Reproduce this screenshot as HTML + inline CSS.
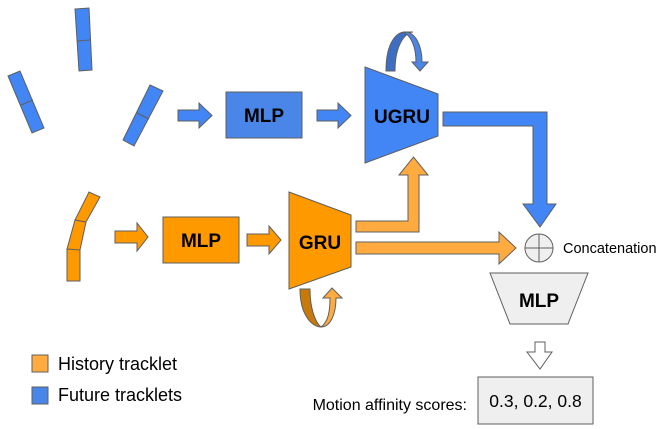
<!DOCTYPE html>
<html><head><meta charset="utf-8"><style>
html,body{margin:0;padding:0;background:#fff;}
svg{display:block;font-family:"Liberation Sans",Arial,sans-serif;}
</style></head><body>
<svg width="664" height="429" viewBox="0 0 664 429" xmlns="http://www.w3.org/2000/svg">
<g stroke="#5f5f5f" stroke-width="1" stroke-linejoin="miter">
<polygon points="75,9 89,8 92,70 79,71" fill="#4285f4"/>
<line x1="77" y1="41" x2="90" y2="40"/>
<polygon points="8,76 20,71 44,128 32,133" fill="#4285f4"/>
<line x1="21" y1="105" x2="33" y2="100"/>
<polygon points="150,85 163,91 134,146 123,140" fill="#4285f4"/>
<line x1="137" y1="113" x2="149" y2="119"/>
<polygon points="67,249 80,249 80,281 67,281" fill="#ff9900"/>
<polygon points="67,249 80,250 86,222 75,220" fill="#ff9900"/>
<polygon points="75,220 86,222 100,197 89,192" fill="#ff9900"/>

<polygon points="178,110 199,110 199,103 212,115.5 199,128 199,121 178,121" fill="#4285f4"/>
<rect x="226" y="92" width="76" height="46" fill="#4a86e8"/>
<polygon points="317,110 338,110 338,103 351,115.5 338,128 338,121 317,121" fill="#4285f4"/>
<polygon points="365,67 438,94 438,136 365,163" fill="#4285f4"/>
<path d="M386,71 C386,40 398,32 405,32 L413,32 C407,32 395,42 395,71 Z" fill="#3c6fc4"/>
<path d="M405,32 C415,32 422,45 422,62 L428,62 L420,71 L412,62 L416,62 C416,47 411,35 403,32 Z" fill="#4a86e8"/>
<polygon points="443,112 547,112 547,204 556,204 540,227 523,204 533,204 533,126 443,126" fill="#4285f4"/>

<polygon points="115,231 137,231 137,223 148,237 137,251 137,243 115,243" fill="#ff9900"/>
<rect x="163" y="217" width="76" height="46" fill="#ff9900"/>
<polygon points="247,234 269,234 269,226 281,240 269,254 269,246 247,246" fill="#ff9900"/>
<polygon points="289,192 351,215 351,267 289,289" fill="#ff9900"/>
<polygon points="356,221 408,221 408,175 399,175 413.5,157 428,175 419,175 419,232 356,232" fill="#ffab40"/>
<polygon points="356,242 499,242 499,232 516,248 499,264 499,254 356,254" fill="#ffab40"/>
<path d="M300,289 L310,289 C310,308 315,322 321,327 C312,327 300,315 300,289 Z" fill="#c77a0a"/>
<path d="M321,327 C328,322 330,312 330,298 L323,298 L332,288 L342,298 L336,298 C336,315 330,327 321,327 Z" fill="#ffab40"/>

<circle cx="539" cy="248" r="14" fill="#efefef"/>
<line x1="525" y1="248" x2="553" y2="248"/>
<line x1="539" y1="234" x2="539" y2="262"/>

<polygon points="490,273 588,273 568,324 510,324" fill="#efefef"/>
<polygon points="535,342 545,342 545,352 552,352 540,369 527,352 535,352" fill="#ffffff"/>
<rect x="478" y="377" width="115" height="47" fill="#efefef"/>

<rect x="32" y="355" width="16" height="17" fill="#ffab40"/>
<rect x="32" y="387" width="16" height="17" fill="#4a86e8"/>
</g>

<g font-weight="bold" fill="#000" text-anchor="middle">
<text x="264" y="122" font-size="19">MLP</text>
<text x="402" y="123" font-size="19">UGRU</text>
<text x="201" y="247" font-size="19">MLP</text>
<text x="320" y="249" font-size="19">GRU</text>
<text x="539" y="307" font-size="19">MLP</text>
</g>
<text x="563" y="253" font-size="14.5">Concatenation</text>
<text x="535.5" y="407" font-size="17.5" text-anchor="middle">0.3, 0.2, 0.8</text>
<text x="467" y="410" font-size="16" text-anchor="end">Motion affinity scores:</text>
<text x="58" y="370" font-size="18">History tracklet</text>
<text x="58" y="401" font-size="18">Future tracklets</text>
</svg>
</body></html>
